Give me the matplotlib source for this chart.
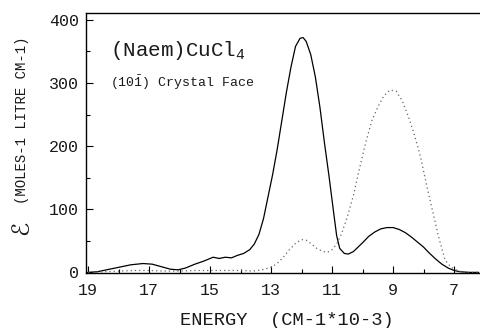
import matplotlib
matplotlib.use("Agg")
import matplotlib.pyplot as plt
from matplotlib.ticker import MultipleLocator

plt.rcParams['font.family'] = ['Liberation Mono', 'DejaVu Sans']
plt.rcParams['mathtext.fontset'] = 'custom'
plt.rcParams['mathtext.rm'] = 'Liberation Mono'
plt.rcParams['mathtext.it'] = 'Liberation Mono'

TXT = '#1a1a1a'

# Solid curve
solid_x = [19.0, 18.7, 18.4, 18.0, 17.6, 17.2, 16.9, 16.6, 16.3, 16.05, 15.8, 15.5, 15.2, 14.9,
           14.7, 14.5, 14.3, 14.1, 13.9, 13.7, 13.55, 13.4, 13.25, 13.1, 12.95, 12.8, 12.65,
           12.5, 12.35, 12.2, 12.05, 11.95, 11.85, 11.7, 11.55, 11.4, 11.25, 11.1, 10.95,
           10.85, 10.75, 10.6, 10.47, 10.3, 10.15, 10.0, 9.8, 9.6, 9.4, 9.2, 9.0, 8.8, 8.6,
           8.4, 8.2, 8.0, 7.8, 7.6, 7.4, 7.2, 7.0, 6.8, 6.5, 6.2]
solid_y = [0, 1, 4, 8, 12, 14, 13, 9, 5, 4, 7, 13, 18, 24,
           22, 24, 23, 27, 30, 36, 45, 60, 85, 120, 155, 195, 240,
           285, 325, 358, 371, 372, 366, 345, 310, 262, 205, 152, 95,
           58, 38, 30, 29, 33, 40, 47, 57, 64, 69, 71, 71, 68, 63,
           56, 48, 40, 30, 21, 13, 7, 3, 1, 0, 0]

# Dotted curve
dot_x = [19.0, 18.5, 18.0, 17.5, 17.0, 16.5, 16.0, 15.5, 15.0, 14.5, 14.0, 13.6, 13.3, 13.0,
         12.8, 12.6, 12.4, 12.2, 12.0, 11.85, 11.7, 11.5, 11.3, 11.15, 11.0, 10.85, 10.7,
         10.5, 10.3, 10.1, 9.9, 9.7, 9.5, 9.3, 9.1, 8.9, 8.7, 8.5, 8.3, 8.1, 7.9, 7.7, 7.5,
         7.3, 7.1, 6.9, 6.7, 6.2]
dot_y = [0, 1, 2, 3, 3, 2, 2, 3, 3, 3, 3, 2, 4, 8,
         14, 24, 36, 46, 52, 51, 46, 38, 33, 32, 36, 45, 60,
         88, 122, 165, 205, 240, 262, 280, 289, 287, 272, 247, 218, 183, 138, 96, 55,
         20, 8, 3, 0, 0]

x_ticks = [19, 17, 15, 13, 11, 9, 7]
y_ticks = [0, 100, 200, 300, 400]

fig = plt.figure(figsize=(4.8, 3.28), dpi=100)
ax = fig.add_axes([86/480, 55/328, 1 - 86/480, 260/328])

ax.plot(solid_x, solid_y, color='black', lw=0.9)
ax.plot(dot_x, dot_y, color='#666666', lw=0.9, linestyle=(0, (1, 2.4)))

ax.set_xlim(19.07, 6.15)
ax.set_ylim(-1, 411)
ax.set_xticks(x_ticks)
ax.set_yticks(y_ticks)
ax.xaxis.set_minor_locator(MultipleLocator(1))
ax.yaxis.set_minor_locator(MultipleLocator(50))
ax.tick_params(which='both', direction='in', labelsize=12, width=0.8, labelcolor=TXT)
ax.tick_params(which='major', length=5)
ax.tick_params(which='minor', length=3)
ax.tick_params(axis='x', pad=7)
ax.tick_params(axis='y', pad=5)
ax.spines['right'].set_visible(False)
for s in ['left', 'bottom', 'top']:
    ax.spines[s].set_linewidth(1.0)

ax.text(18.28, 352, '(Naem)CuCl$_4$', fontsize=15, va='center', ha='left', color=TXT)
ax.text(18.28, 300, r'(10$\bar{1}$) Crystal Face', fontsize=9.5, va='center', ha='left',
        color=TXT)

fig.text(287/480, 1 - 325/328, 'ENERGY  (CM-1*10-3)', fontsize=13.5, ha='center',
         va='baseline', color=TXT)
fig.text(21/480, 1 - 228/328, 'ℰ', fontsize=17, rotation=90, ha='center', va='center',
         family='DejaVu Sans', color=TXT)
fig.text(22/480, 1 - 120/328, '(MOLES-1 LITRE CM-1)', fontsize=10, rotation=90,
         ha='center', va='center', color=TXT)

fig.savefig('out.png', dpi=100)
